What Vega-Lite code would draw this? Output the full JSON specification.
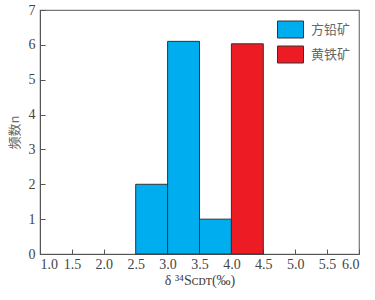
{
  "$schema": "https://vega.github.io/schema/vega-lite/v6.json",
  "width": 319,
  "height": 244,
  "autosize": {"type": "none"},
  "padding": {"left": 40, "top": 10, "right": 16, "bottom": 46},
  "background": "white",
  "config": {
    "view": {"stroke": "#777777", "strokeWidth": 1.2},
    "font": "Liberation Serif"
  },
  "data": {
    "values": [
      {"mineral": "方铅矿", "x0": 2.5, "x1": 3.0, "n": 2},
      {"mineral": "方铅矿", "x0": 3.0, "x1": 3.5, "n": 6.1},
      {"mineral": "方铅矿", "x0": 3.5, "x1": 4.0, "n": 1},
      {"mineral": "黄铁矿", "x0": 4.0, "x1": 4.5, "n": 6.03}
    ]
  },
  "mark": {"type": "rect", "stroke": "#333333", "strokeWidth": 1},
  "encoding": {
    "x": {
      "field": "x0", "type": "quantitative",
      "scale": {"domain": [1, 6], "nice": false, "zero": false},
      "axis": {
        "values": [1, 1.5, 2, 2.5, 3, 3.5, 4, 4.5, 5, 5.5, 6],
        "format": ".1f", "grid": false, "tickSize": -5, "tickColor": "#555555",
        "domainColor": "#555555", "labelFont": "Liberation Serif", "labelFontSize": 14,
        "labelColor": "#444444", "labelPadding": 8,
        "title": "δ ³⁴Sᴄᴅᴛ(‰)", "titleFont": "Liberation Serif", "titleFontSize": 14,
        "titleFontWeight": "normal", "titleColor": "#444444", "titlePadding": 2
      }
    },
    "x2": {"field": "x1"},
    "y": {
      "field": "n", "type": "quantitative",
      "scale": {"domain": [0, 7], "nice": false},
      "axis": {
        "values": [0, 1, 2, 3, 4, 5, 6, 7],
        "grid": false, "tickSize": -5, "tickColor": "#555555",
        "domainColor": "#555555", "labelFont": "Liberation Serif", "labelFontSize": 14,
        "labelColor": "#444444", "labelPadding": 10,
        "title": "频数n", "titleFont": "Noto Sans CJK SC", "titleFontSize": 13,
        "titleFontWeight": "normal", "titleColor": "#666666", "titlePadding": 7
      }
    },
    "y2": {"datum": 0},
    "color": {
      "field": "mineral", "type": "nominal",
      "scale": {"domain": ["方铅矿", "黄铁矿"], "range": ["#00AEEF", "#ED1C24"]},
      "legend": {
        "title": null, "orient": "none", "legendX": 240, "legendY": 9,
        "symbolType": "M-1.3,-0.85H1.3V0.85H-1.3Z", "symbolSize": 400,
        "symbolStrokeColor": "#333333", "symbolStrokeWidth": 1, "symbolOpacity": 1,
        "labelFont": "Noto Sans CJK SC", "labelFontSize": 13, "labelColor": "#666666",
        "labelOffset": 10, "rowPadding": 4
      }
    }
  }
}
